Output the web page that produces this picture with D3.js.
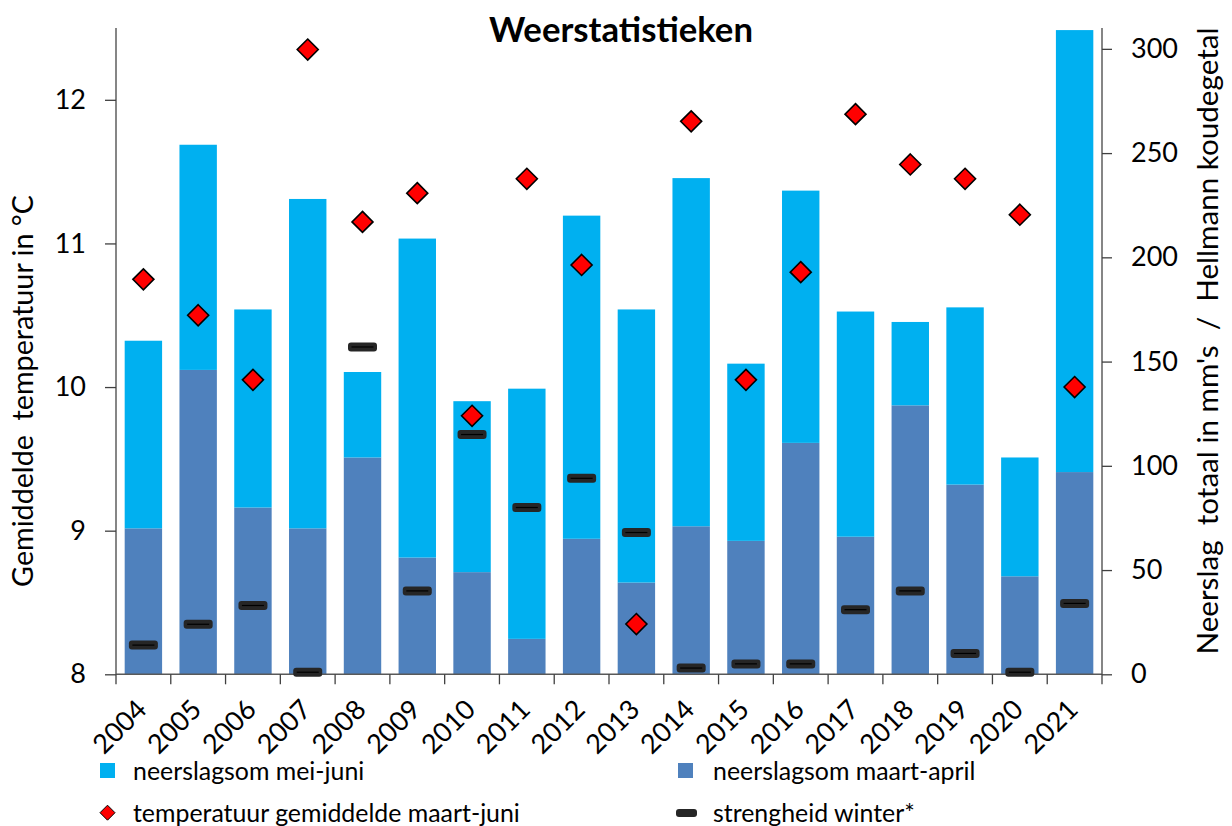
<!DOCTYPE html>
<html><head><meta charset="utf-8">
<script src="https://cdn.jsdelivr.net/npm/d3@7/dist/d3.min.js"></script>
<style>
body{margin:0;background:#fff}
svg{display:block;font-family:Lato,'Open Sans',sans-serif}
text{white-space:pre}
</style>
</head><body><svg id="c" width="1232" height="826" xml:space="preserve"></svg>
<script>
// ---- data ----
const years = ["2004","2005","2006","2007","2008","2009","2010","2011","2012","2013","2014","2015","2016","2017","2018","2019","2020","2021"];
const rainMarApr = [70,146,80,70,104,56,49,17,65,44,71,64,111,66,129,91,47,97];
const rainMayJun = [90,108,95,158,41,153,82,120,155,131,167,85,121,108,40,85,57,212];
const tempMarJun = [10.75,10.5,10.05,12.35,11.15,11.35,9.8,11.45,10.85,8.35,11.85,10.05,10.8,11.9,11.55,11.45,11.2,10.0];
const winterHellmann = [14,24,33,1,157,40,115,80,94,68,3,5,5,31,40,10,1,34];
const tempTicks = [8,9,10,11,12];
const rainTicks = [0,50,100,150,200,250,300];
const chartTitle = "Weerstatistieken";
const leftTitle = "Gemiddelde  temperatuur in °C";
const rightTitle = "Neerslag  totaal in mm's  /  Hellmann koudegetal";
const legendLabels = ["neerslagsom mei-juni","neerslagsom maart-april","temperatuur gemiddelde maart-juni","strengheid winter*"];

// ---- style ----
const C_MJ = "#00B0F0", C_MA = "#4F81BD", C_T = "#FF0000", C_W = "#262626";
const svg = d3.select("#c");
const L = 116, R = 1102, T = 28, B = 674.3;

const x = d3.scaleBand().domain(years).range([L, R]).paddingInner(0.317).paddingOuter(0.1585);
const yT = d3.scaleLinear().domain([8, 12.5]).range([B, T]);
const yR = d3.scaleLinear().domain([0, 310]).range([B, T]);

function fit(sel, target){
  const w = sel.node().getComputedTextLength();
  const fs = parseFloat(sel.attr("font-size"));
  sel.attr("font-size", fs * target / w);
  return fs * target / w;
}

// bars
const rows = years.map((y,i)=>({y, ma: rainMarApr[i], mj: rainMayJun[i], t: tempMarJun[i], w: winterHellmann[i]}));
const g = svg.append("g");
g.selectAll("rect.ma").data(rows).join("rect").attr("class","ma")
  .attr("x", d=>x(d.y)).attr("width", x.bandwidth())
  .attr("y", d=>yR(d.ma)).attr("height", d=>B - yR(d.ma)).attr("fill", C_MA);
g.selectAll("rect.mj").data(rows).join("rect").attr("class","mj")
  .attr("x", d=>x(d.y)).attr("width", x.bandwidth())
  .attr("y", d=>yR(d.ma + d.mj)).attr("height", d=>yR(d.ma) - yR(d.ma + d.mj)).attr("fill", C_MJ);

// left axis
const axL = svg.append("g").attr("transform",`translate(${L},0)`)
  .call(d3.axisLeft(yT).tickValues(tempTicks).tickSize(11).tickPadding(19).tickFormat(d3.format("d")));
axL.select(".domain").attr("stroke","#868686").attr("stroke-width",2).attr("d",`M0,${T}V${B}`);
axL.selectAll(".tick line").attr("stroke","#404040").attr("stroke-width",1.3);
axL.selectAll(".tick text").attr("font-size",27).attr("font-family","Lato").attr("fill","#000");

// right axis
const axR = svg.append("g").attr("transform",`translate(${R},0)`)
  .call(d3.axisRight(yR).tickValues(rainTicks).tickSize(10).tickPadding(19));
axR.select(".domain").attr("stroke","#868686").attr("stroke-width",2).attr("d",`M0,${T}V${B}`);
axR.selectAll(".tick line").attr("stroke","#404040").attr("stroke-width",1.3);
axR.selectAll(".tick text").attr("font-size",27).attr("font-family","Lato").attr("fill","#000");

// bottom axis
const step = x.step(), half = step * x.paddingInner() / 2;
const bounds = years.map(d => x(d) - half).concat([R]);
svg.append("line").attr("x1",L).attr("x2",R).attr("y1",B).attr("y2",B).attr("stroke","#595959").attr("stroke-width",1.5);
svg.selectAll("line.bt").data(bounds).join("line").attr("class","bt")
  .attr("x1",d=>d).attr("x2",d=>d).attr("y1",B).attr("y2",B+10).attr("stroke","#404040").attr("stroke-width",1.3);
svg.selectAll("text.xl").data(years).join("text").attr("class","xl")
  .attr("transform", d=>`translate(${x(d)+x.bandwidth()/2+5},${B+37}) rotate(-45)`)
  .attr("text-anchor","end").attr("font-size",27).text(d=>d);

// winter markers
const wm = svg.selectAll("g.wm").data(rows).join("g").attr("class","wm")
  .attr("transform", d=>`translate(${x(d.y)+x.bandwidth()/2},${yR(d.w)})`);
wm.append("rect").attr("x",-14.5).attr("y",-4.5).attr("width",29).attr("height",9).attr("rx",3).attr("fill",C_W);
wm.append("line").attr("x1",-11).attr("x2",11).attr("stroke","#000").attr("stroke-width",1.2);

// temperature diamonds
svg.selectAll("path.tm").data(rows).join("path").attr("class","tm")
  .attr("transform", d=>`translate(${x(d.y)+x.bandwidth()/2},${yT(d.t)})`)
  .attr("d","M0,-10.5L10.5,0L0,10.5L-10.5,0Z").attr("fill",C_T).attr("stroke","#000").attr("stroke-width",1.6);

// title
const tt = svg.append("text").attr("x",621).attr("y",42).attr("text-anchor","middle")
  .attr("font-weight","bold").attr("font-size",30).text(chartTitle);
fit(tt, 264);

// axis titles
const lt = svg.append("text").attr("transform","translate(33,391) rotate(-90)").attr("text-anchor","middle")
  .attr("font-size",26).text(leftTitle);
fit(lt, 392);
const rt = svg.append("text").attr("transform","translate(1218,341) rotate(-90)").attr("text-anchor","middle")
  .attr("font-size",26).text(rightTitle);
fit(rt, 627);

// legend
const lg = svg.append("g");
lg.append("rect").attr("x",100).attr("y",763).attr("width",15).attr("height",15).attr("fill",C_MJ);
lg.append("rect").attr("x",678).attr("y",763).attr("width",15).attr("height",15).attr("fill",C_MA);
lg.append("path").attr("transform","translate(107.5,812.7)").attr("d","M0,-7.5L7.5,0L0,7.5L-7.5,0Z").attr("fill",C_T).attr("stroke","#000").attr("stroke-width",1);
lg.append("rect").attr("x",676).attr("y",809).attr("width",21).attr("height",8).attr("rx",3).attr("fill",C_W);
const l1 = lg.append("text").attr("x",133).attr("y",780).attr("font-size",26).text(legendLabels[0]);
const l2 = lg.append("text").attr("x",713).attr("y",780).attr("font-size",26).text(legendLabels[1]);
const l3 = lg.append("text").attr("x",133).attr("y",822).attr("font-size",26).text(legendLabels[2]);
const l4 = lg.append("text").attr("x",713).attr("y",822).attr("font-size",26).text(legendLabels[3]);
const fs = fit(l3, 387);
[l1,l2,l4].forEach(s=>s.attr("font-size",fs));
</script>
</body></html>
